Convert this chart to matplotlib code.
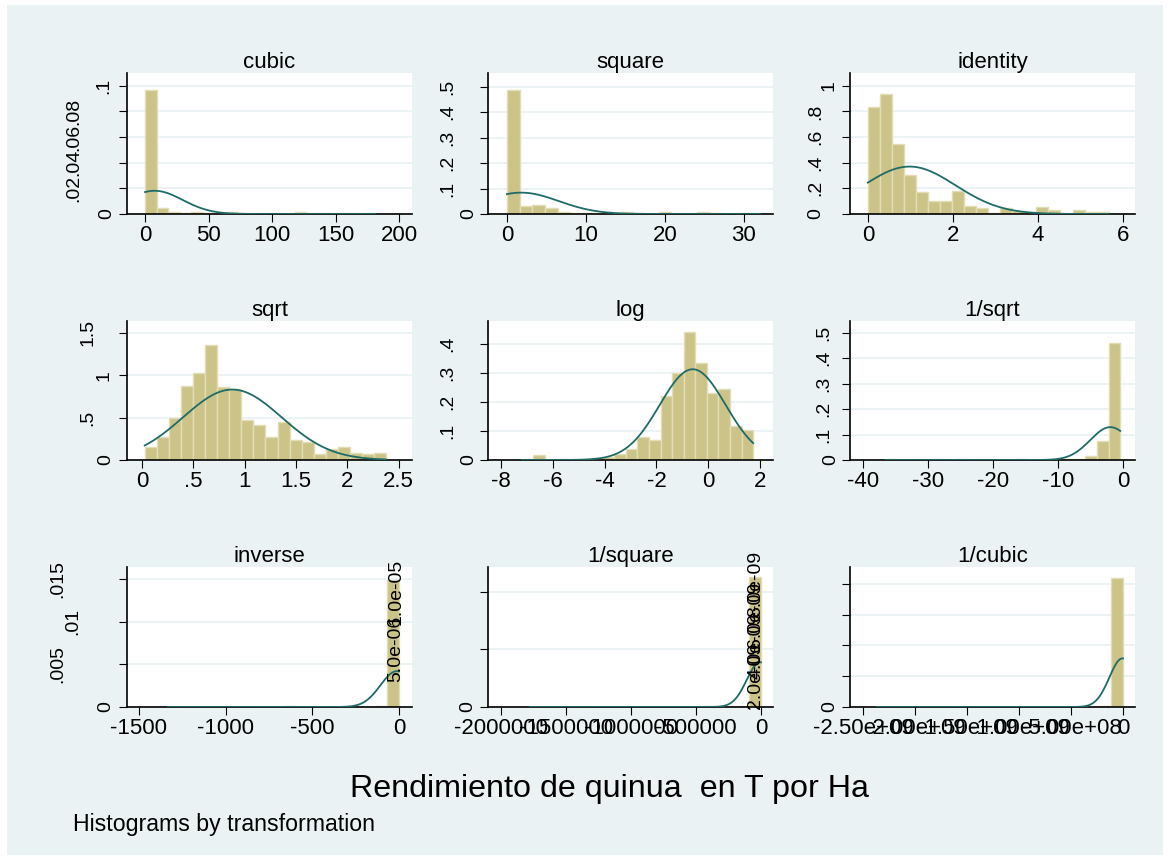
import numpy as np
import matplotlib
matplotlib.use("Agg")
import matplotlib.pyplot as plt
from matplotlib.patches import Rectangle

plt.rcParams['font.family'] = ['Liberation Sans', 'DejaVu Sans']
plt.rcParams['axes.unicode_minus'] = False

# ---- data (density scale, 20 bins per panel) ----
titles = ["cubic", "square", "identity", "sqrt", "log", "1/sqrt",
          "inverse", "1/square", "1/cubic"]

# data range (min, max) of each transformed variable
cubic_range = (0.0, 181.3)
square_range = (0.0, 32.04)
identity_range = (0.0, 5.66)
sqrt_range = (0.027, 2.379)
log_range = (-7.195, 1.733)
invsqrt_range = (-36.51, -0.42)
inverse_range = (-1333.3, -0.177)
invsquare_range = (-1.778e6, -0.031)
invcubic_range = (-2.37e9, -0.0055)

cubic_dens = [0.0969, 0.0044, 0.0016, 0.0004, 0.0018, 0.0008, 0.0003, 0.0016, 0.0004, 0.0,
              0.0, 0.0, 0.0, 0.0012, 0.0006, 0.0006, 0.0, 0.0005, 0.0, 0.0005]
square_dens = [0.487, 0.031, 0.037, 0.022, 0.008, 0.004, 0.005, 0.004, 0.005, 0.008,
               0.003, 0.0, 0.006, 0.0, 0.0, 0.006, 0.003, 0.0, 0.003, 0.003]
identity_dens = [0.833, 0.9375, 0.549, 0.302, 0.172, 0.099, 0.104, 0.18, 0.0625, 0.044,
                 0.01, 0.044, 0.026, 0.01, 0.057, 0.031, 0.0, 0.031, 0.018, 0.018]
sqrt_dens = [0.149, 0.275, 0.495, 0.876, 1.029, 1.355, 0.856, 0.840, 0.471, 0.408,
             0.275, 0.451, 0.236, 0.216, 0.071, 0.126, 0.157, 0.079, 0.071, 0.082]
log_dens = [0.0035, 0.017, 0.0, 0.0035, 0.0, 0.0023, 0.006, 0.0115, 0.021, 0.039,
            0.078, 0.069, 0.221, 0.300, 0.443, 0.334, 0.233, 0.244, 0.118, 0.104]
invsqrt_dens = [0.003, 0.0, 0.0, 0.0, 0.003, 0.0, 0.003, 0.0, 0.0, 0.0,
                0.0, 0.003, 0.0, 0.0, 0.0015, 0.003, 0.005, 0.017, 0.074, 0.461]
inverse_dens = [3.6e-5, 0, 0, 0, 0, 0, 0, 3.6e-5, 0, 0,
                7e-5, 0, 0, 0, 0, 0, 3.6e-5, 0, 1.1e-4, 0.01488]
invsquare_dens = [2.7e-8, 0, 0, 0, 0, 0, 0, 0, 0, 0,
                  0, 0, 2.7e-8, 0, 0, 5.4e-8, 0, 0, 8e-8, 1.1225e-5]
invcubic_dens = [2e-11, 0, 0, 0, 0, 0, 0, 0, 0, 0,
                 0, 0, 0, 0, 0, 0, 2e-11, 0, 4e-11, 8.36e-9]

# fitted normal (mean, sd) per panel
normal_mean = [7.5, 1.8, 0.98, 0.88, -0.6, -1.95, -12.0, -7000.0, -5.8e6]
normal_sd = [22.0, 4.75, 1.078, 0.48, 1.273, 3.09, 95.0, 102800.0, 1.262e8]

ranges = [cubic_range, square_range, identity_range, sqrt_range, log_range,
          invsqrt_range, inverse_range, invsquare_range, invcubic_range]
densities = [cubic_dens, square_dens, identity_dens, sqrt_dens, log_dens,
             invsqrt_dens, inverse_dens, invsquare_dens, invcubic_dens]

yticks = [[0, .02, .04, .06, .08, .1], [0, .1, .2, .3, .4, .5], [0, .2, .4, .6, .8, 1],
          [0, .5, 1, 1.5], [0, .1, .2, .3, .4], [0, .1, .2, .3, .4, .5],
          [0, .005, .01, .015], [0, 5e-6, 1e-5], [0, 2e-9, 4e-9, 6e-9, 8e-9]]
ylabels = [['0', '.02', '.04', '.06', '.08', '.1'], ['0', '.1', '.2', '.3', '.4', '.5'],
           ['0', '.2', '.4', '.6', '.8', '1'], ['0', '.5', '1', '1.5'],
           ['0', '.1', '.2', '.3', '.4'], ['0', '.1', '.2', '.3', '.4', '.5'],
           ['0', '.005', '.01', '.015'], ['0', '5.0e-06', '1.0e-05'],
           ['0', '2.0e-09', '4.0e-09', '6.0e-09', '8.0e-09']]
xticks = [[0, 50, 100, 150, 200], [0, 10, 20, 30], [0, 2, 4, 6],
          [0, .5, 1, 1.5, 2, 2.5], [-8, -6, -4, -2, 0, 2], [-40, -30, -20, -10, 0],
          [-1500, -1000, -500, 0], [-2e6, -1.5e6, -1e6, -5e5, 0],
          [-2.5e9, -2e9, -1.5e9, -1e9, -5e8, 0]]
xlabels = [['0', '50', '100', '150', '200'], ['0', '10', '20', '30'], ['0', '2', '4', '6'],
           ['0', '.5', '1', '1.5', '2', '2.5'], ['-8', '-6', '-4', '-2', '0', '2'],
           ['-40', '-30', '-20', '-10', '0'], ['-1500', '-1000', '-500', '0'],
           ['-2000000', '-1500000', '-1000000', '-500000', '0'],
           ['-2.50e+09', '-2.00e+09', '-1.50e+09', '-1.00e+09', '-5.00e+08', '0']]

# ---- layout / style ----
W, H = 1170, 856
BG = '#EAF2F3'
BAR = '#CCC389'
BAR_EDGE = '#E2DDB4'
LINE = '#1F6B68'
FS = 16
FS_Y = 14

xlims = [(-14.2, 209.9), (-2.4, 33.7), (-0.42, 6.28), (-0.146, 2.63), (-8.5, 2.5),
         (-42, 1.85), (-1569, 75), (-2.1e6, 9.2e4), (-2.625e9, 1.15e8)]
ytops = [0.110, 0.554, 1.10, 1.64, 0.48, 0.546, 0.0164, 1.213e-5, 9.1e-9]
# distance (px) from y axis line to the right edge of each rotated label
label_dist = [[16, 49, 49, 49, 49, 19], [15, 36, 36, 36, 36, 36], [30, 30, 30, 30, 30, 17],
              [17, 35, 19, 35], [15, 36, 36, 36, 36], [15, 22, 22, 22, 22, 22],
              [17, 65, 50, 65], [16, 88, 88], [16, 90, 90, 90, 90]]

col_x = [127, 488, 850]
row_y = [(73, 214), (321, 460), (567, 707)]
pw = 285
TICK_PX = 8
px2pt = 72 / 100
descent_px = 0.21 * FS_Y / px2pt

fig = plt.figure(figsize=(W / 100, H / 100), dpi=100)
fig.patch.set_facecolor('white')
fig.add_artist(Rectangle((7 / W, 1 - 855 / H), (1163 - 7) / W, (855 - 5) / H,
                         transform=fig.transFigure, facecolor=BG, edgecolor='none', zorder=-10))

for i in range(9):
    r, c = divmod(i, 3)
    top, bot = row_y[r]
    ax = fig.add_axes([col_x[c] / W, 1 - bot / H, pw / W, (bot - top) / H])
    ax.set_facecolor('white')

    lo, hi = ranges[i]
    dens = np.array(densities[i])
    edges = np.linspace(lo, hi, len(dens) + 1)
    ax.bar(edges[:-1], dens, width=np.diff(edges), align='edge',
           color=BAR, edgecolor=BAR_EDGE, linewidth=1.0, zorder=2)

    xs = np.linspace(lo, hi, 400)
    m, s = normal_mean[i], normal_sd[i]
    ax.plot(xs, np.exp(-0.5 * ((xs - m) / s) ** 2) / (s * np.sqrt(2 * np.pi)),
            color=LINE, lw=1.3, zorder=3)

    ax.set_xlim(*xlims[i])
    ax.set_ylim(0, ytops[i])
    ax.set_xticks(xticks[i])
    ax.set_xticklabels(xlabels[i])
    ax.set_yticks(yticks[i])
    ax.set_yticklabels(ylabels[i], rotation=90, va='center')

    ax.grid(axis='y', color=BG, lw=1.3)
    ax.set_axisbelow(True)
    for side in ['top', 'right']:
        ax.spines[side].set_visible(False)
    for side in ['left', 'bottom']:
        ax.spines[side].set_linewidth(1.2)
        ax.spines[side].set_color('black')
    ax.tick_params(direction='out', length=TICK_PX * px2pt, width=0.8, colors='black')
    ax.tick_params(axis='x', pad=2, labelsize=FS)
    ax.tick_params(axis='y', labelsize=FS_Y)
    for t, d in zip(ax.yaxis.get_major_ticks(), label_dist[i]):
        t.set_pad((d - TICK_PX - descent_px) * px2pt)

    ax.set_title(titles[i], fontsize=FS, pad=2.5)

fig.text(609 / W, 1 - 797 / H, "Rendimiento de quinua  en T por Ha",
         fontsize=23.2, ha='center', va='baseline')
fig.text(73 / W, 1 - 831 / H, "Histograms by transformation",
         fontsize=16.7, ha='left', va='baseline')

fig.savefig("out.png", dpi=100, facecolor=fig.get_facecolor())
